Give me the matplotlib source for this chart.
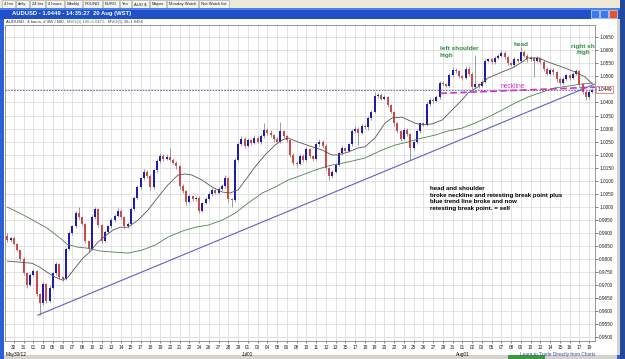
import matplotlib
matplotlib.use("Agg")
import matplotlib.pyplot as plt
from matplotlib.patches import Rectangle
import numpy as np

plt.rcParams['font.family'] = ['Liberation Sans', 'DejaVu Sans']

# AUD/USD 4h candles (two original bars per candle)
first_open = 0.9890
closes = [
    0.9872, 0.9880, 0.9858, 0.9835, 0.9800, 0.9745, 0.9700, 0.9740, 0.9755, 0.9665,
    0.9630, 0.9705, 0.9640, 0.9690, 0.9745, 0.9780, 0.9730, 0.9725, 0.9840, 0.9900,
    0.9925, 0.9975, 0.9960, 0.9935, 0.9870, 0.9840, 0.9960, 0.9990, 0.9930, 0.9870,
    0.9905, 0.9925, 0.9950, 0.9965, 0.9985, 0.9960, 0.9925, 0.9935, 0.9990, 1.0035,
    1.0075, 1.0110, 1.0135, 1.0120, 1.0075, 1.0140, 1.0175, 1.0195, 1.0185, 1.0190,
    1.0180, 1.0170, 1.0155, 1.0080, 1.0060, 1.0020, 1.0040, 1.0030, 1.0035, 0.9985,
    1.0015, 1.0030, 1.0050, 1.0065, 1.0055, 1.0070, 1.0080, 1.0110, 1.0030, 1.0025,
    1.0180, 1.0240, 1.0260, 1.0235, 1.0255, 1.0245, 1.0265, 1.0250, 1.0270, 1.0295,
    1.0285, 1.0275, 1.0260, 1.0250, 1.0290, 1.0270, 1.0255, 1.0200, 1.0170, 1.0165,
    1.0195, 1.0180, 1.0220, 1.0195, 1.0185, 1.0240, 1.0250, 1.0235, 1.0150, 1.0120,
    1.0135, 1.0160, 1.0205, 1.0225, 1.0215, 1.0240, 1.0290, 1.0300, 1.0285, 1.0310,
    1.0305, 1.0340, 1.0365, 1.0425, 1.0430, 1.0415, 1.0420, 1.0390, 1.0365, 1.0320,
    1.0290, 1.0260, 1.0295, 1.0280, 1.0225, 1.0250, 1.0290, 1.0320, 1.0315, 1.0395,
    1.0410, 1.0405, 1.0420, 1.0475, 1.0470, 1.0465, 1.0505, 1.0525, 1.0520, 1.0500,
    1.0495, 1.0530, 1.0510, 1.0460, 1.0470, 1.0465, 1.0480, 1.0560, 1.0565, 1.0555,
    1.0570, 1.0580, 1.0590, 1.0575, 1.0550, 1.0545, 1.0565, 1.0560, 1.0595, 1.0580,
    1.0565, 1.0570, 1.0560, 1.0570, 1.0555, 1.0530, 1.0510, 1.0525, 1.0515, 1.0490,
    1.0475, 1.0490, 1.0505, 1.0495, 1.0510, 1.0520, 1.0470, 1.0440, 1.0420, 1.0440,
    1.0449,
]
# wicks in pips beyond the candle body
upper_wick = [
    8, 5, 6, 4, 5, 6, 4, 8, 6, 5,
    6, 8, 5, 10, 6, 8, 5, 7, 6, 8,
    6, 10, 25, 6, 5, 4, 8, 10, 6, 5,
    6, 5, 8, 6, 10, 5, 4, 6, 8, 6,
    8, 6, 10, 6, 5, 6, 8, 10, 6, 12,
    36, 8, 6, 5, 6, 5, 8, 6, 5, 6,
    5, 6, 8, 6, 5, 8, 6, 12, 6, 5,
    6, 8, 10, 6, 8, 6, 10, 6, 8, 26,
    6, 8, 5, 6, 35, 6, 5, 4, 6, 5,
    8, 6, 8, 6, 5, 8, 10, 6, 5, 4,
    6, 8, 6, 8, 5, 6, 8, 10, 6, 8,
    6, 8, 6, 15, 8, 6, 8, 5, 6, 4,
    6, 5, 8, 6, 5, 6, 8, 6, 5, 8,
    8, 6, 10, 8, 6, 5, 8, 11, 6, 5,
    6, 10, 8, 5, 112, 6, 8, 8, 6, 5,
    8, 6, 11, 6, 5, 6, 8, 6, 18, 6,
    5, 8, 6, 8, 5, 6, 5, 8, 6, 5,
    6, 8, 6, 5, 8, 8, 6, 5, 6, 8,
    5,
]
lower_wick = [
    6, 8, 5, 6, 8, 6, 10, 5, 6, 8,
    45, 6, 10, 6, 5, 6, 8, 10, 5, 6,
    8, 6, 5, 6, 8, 13, 6, 5, 8, 10,
    6, 5, 6, 8, 5, 6, 8, 6, 5, 6,
    5, 6, 8, 10, 12, 6, 5, 6, 8, 6,
    5, 6, 8, 10, 8, 13, 6, 8, 6, 9,
    6, 5, 6, 8, 6, 5, 6, 8, 10, 25,
    6, 5, 6, 8, 6, 8, 5, 6, 8, 6,
    8, 6, 10, 6, 5, 6, 8, 10, 8, 12,
    6, 8, 5, 6, 8, 5, 6, 8, 10, 17,
    8, 6, 5, 8, 6, 5, 6, 8, 48, 6,
    8, 10, 6, 5, 8, 6, 5, 8, 6, 10,
    8, 6, 5, 10, 45, 6, 8, 6, 5, 6,
    8, 6, 5, 6, 8, 6, 5, 6, 8, 6,
    9, 6, 8, 10, 6, 8, 6, 5, 6, 8,
    6, 5, 6, 8, 6, 5, 8, 6, 5, 6,
    8, 6, 62, 5, 6, 8, 6, 5, 8, 10,
    8, 6, 5, 8, 6, 5, 10, 8, 10, 6,
    5,
]

# moving averages, sampled along the drawn curves (candle index, price)
ma30_idx = [0, 3.9, 7.6, 10, 12.2, 14.7, 17.1, 18.7, 20.8, 23.3, 25.4, 27.6, 29.4, 32.5,
            34.7, 37.1, 40.2, 43.3, 46.4, 49.4, 52.5, 54.7, 56.8, 59.9, 63, 66.1, 68.5,
            71, 73.1, 76.2, 79.3, 82.4, 84.5, 86.4, 89.4, 93.8, 96.8, 99.9, 101.8, 104.8,
            107.9, 110, 113.1, 116.2, 118.4, 121.4, 123.3, 125.4, 127.6, 130.7, 133.8,
            136.8, 139.9, 141.8, 144.8, 147.9, 152.2, 155.3, 158.4, 160.2, 163.3, 166.4,
            170.7, 174.7, 177.8, 180]
ma30_val = [0.9792, 0.9788, 0.9784, 0.9769, 0.9750, 0.9731, 0.9719, 0.9731, 0.9765, 0.9804,
            0.9827, 0.9861, 0.9881, 0.9911, 0.9922, 0.9922, 0.9949, 0.9988, 1.0038, 1.0084,
            1.0122, 1.0126, 1.0122, 1.0103, 1.0076, 1.0057, 1.0053, 1.0065, 1.0100, 1.0153,
            1.0199, 1.0237, 1.0256, 1.0264, 1.0249, 1.0230, 1.0218, 1.0199, 1.0199, 1.0210,
            1.0226, 1.0230, 1.0264, 1.0321, 1.0341, 1.0344, 1.0333, 1.0321, 1.0314, 1.0318,
            1.0333, 1.0371, 1.0410, 1.0437, 1.0460, 1.0494, 1.0517, 1.0532, 1.0555, 1.0571,
            1.0571, 1.0555, 1.0536, 1.0517, 1.0498, 1.0470]
ma120_idx = [0, 3.9, 7.9, 12.2, 16.2, 18.4, 21.5, 24.5, 28.5, 32.5, 37.1, 41.4, 45.4, 49.4,
             53.8, 57.8, 61.8, 66.1, 70.1, 74.1, 78.4, 82.4, 86.4, 90.7, 94.7, 98.7, 104.8,
             110, 115.3, 119.3, 123.3, 127.6, 131.6, 135.6, 139.9, 143.9, 147.9, 152.2,
             156.2, 160.2, 164.5, 168.5, 172.5, 176.8, 180]
ma120_val = [0.9999, 0.9976, 0.9949, 0.9919, 0.9881, 0.9857, 0.9846, 0.9842, 0.9831, 0.9827,
             0.9823, 0.9834, 0.9853, 0.9884, 0.9907, 0.9922, 0.9930, 0.9949, 0.9976, 1.0015,
             1.0053, 1.0076, 1.0103, 1.0122, 1.0141, 1.0157, 1.0172, 1.0187, 1.0218, 1.0237,
             1.0249, 1.0264, 1.0275, 1.0291, 1.0302, 1.0321, 1.0344, 1.0371, 1.0398, 1.0421,
             1.0440, 1.0456, 1.0463, 1.0471, 1.0475]

trend_idx = [9.4, 180.8]
trend_val = [0.9585, 1.0471]
neck_idx = [133.2, 181.1]
neck_val = [1.0435, 1.0459]
last_price = 1.0449

day_labels = ["30", "31", "01", "03", "05", "06", "07", "08", "10", "12",
              "13", "14", "15", "17", "18", "19", "20", "21", "22", "24",
              "26", "27", "28", "29", "01", "03", "04", "05", "06", "08",
              "10", "11", "12", "13", "15", "17", "18", "19", "20", "22",
              "24", "25", "26", "27", "29", "31", "01", "02", "03", "05",
              "07", "08", "09", "10", "12", "14", "15", "16", "17", "19"]
month_labels = {24: "Jul01", 46: "Aug01"}

W, H = 625, 359
fig = plt.figure(figsize=(W / 100, H / 100), dpi=100)
fig.patch.set_facecolor('white')
renderer = fig.canvas.get_renderer()


def px_rect(x0, y0, x1, y1, color, ec='none', lw=0.5):
    fig.add_artist(Rectangle((x0 / W, 1 - y1 / H), (x1 - x0) / W, (y1 - y0) / H,
                             transform=fig.transFigure, facecolor=color,
                             edgecolor=ec, lw=lw, zorder=-10))


def px_text(x, y, s, **kw):
    return fig.text(x / W, 1 - y / H, s, **kw)


# window chrome
px_rect(0, 0, W, 8, '#ece9d8')
tabs = ["4 hrs", "daily", "24 hrs", "4 hours", "Weekly", "POUND", "EURO", "Yen",
        "AUD $", "Majors", "Monday Watch", "Not Watch list"]
tx = 2
for t in tabs:
    lab = px_text(tx + 2, 4.2, t, fontsize=3.0, va='center', color='#202020')
    w = lab.get_window_extent(renderer).width + 4
    px_rect(tx, 0.5, tx + w, 7.5, '#f4f3ee', ec='#a0a0a0', lw=0.4)
    tx += w + 1
px_rect(0, 8, W, H, '#2d5fd6')
# title bar with a light top edge, like the XP theme
px_rect(0, 8, W, 19, '#1f50c8')
px_rect(0, 8, W, 10, '#4a80e8')
px_text(12, 13.8, "AUDUSD - 1.0449 - 14:35:27  20 Aug (WST)", fontsize=4.2,
        color='white', va='center', fontweight='bold')
px_rect(591, 9.5, 599, 17.5, '#3c78f0', ec='white', lw=0.4)
px_rect(600, 9.5, 608, 17.5, '#3c78f0', ec='white', lw=0.4)
px_rect(609, 9.5, 617, 17.5, '#e2542e', ec='white', lw=0.4)
px_rect(4, 19, 617, 355, 'white')
px_rect(617, 19, 620, 355, '#d6d3ce')
px_rect(620, 0, W, H, '#24489a')
px_rect(4, 355, 617, H, '#d6d3ce')
px_rect(508, 355, 545, H, '#3a9a3a')

# header line, pieces placed one after another
hx = 6
for part, col in [("AUDUSD , 4 hours, # 355 / 500, ", '#202020'),
                  ("MVG(1) 120=1.0471, ", '#2e7d32'),
                  ("MVG(1) 30=1.0456", '#404040')]:
    t = px_text(hx, 21.5, part, fontsize=3.0, va='center', color=col)
    hx += t.get_window_extent(renderer).width + 1.5

# main chart axes (pixel box 5..595 x 25..341)
ax = fig.add_axes([5 / W, 1 - 341 / H, 590 / W, 316 / H])
ax.set_facecolor('white')

n = len(closes)
idx = np.arange(n)
opens = np.array([first_open] + closes[:-1])
cl = np.array(closes)
top = np.maximum(opens, cl)
bot = np.minimum(opens, cl)
highs = top + np.array(upper_wick) * 0.0001
lows = bot - np.array(lower_wick) * 0.0001
up = cl >= opens

ax.vlines(idx, lows, highs, color='#8c8c8c', lw=0.6, zorder=3)
heights = np.maximum(top - bot, 0.0003)
ax.bar(idx[up], heights[up], bottom=bot[up], width=0.6, color='#1c1cb0', lw=0, zorder=4)
ax.bar(idx[~up], heights[~up], bottom=bot[~up], width=0.6, color='#d04848', lw=0, zorder=4)

ax.plot(ma30_idx, ma30_val, color='#555555', lw=0.6, zorder=5)
ax.plot(ma120_idx, ma120_val, color='#4f7f4f', lw=0.6, zorder=5)
ax.plot(trend_idx, trend_val, color='#6060c8', lw=0.8, zorder=5)
ax.axhline(last_price, color='#5a5aa0', lw=0.6, dashes=(2, 1.5), zorder=5)
ax.plot(neck_idx, neck_val, color='#cc33cc', lw=1.2, dashes=(4, 2), zorder=6)

ax.set_xlim(-0.7, 180.8)
ax.set_ylim(0.9486, 1.0697)

yt = np.arange(0.9500, 1.0651, 0.005)
ax.set_yticks(yt)
# the 1.0450 label sits under the last-price tag
ax.set_yticklabels(["" if abs(v - 1.045) < 1e-6 else "%.4f" % v for v in yt])
ax.yaxis.tick_right()
ax.tick_params(axis='y', labelsize=3.4, length=2, pad=1, width=0.4, colors='#202020')
xt = [2 + 3 * i for i in range(len(day_labels))]
ax.set_xticks(xt)
ax.set_xticklabels(day_labels)
ax.tick_params(axis='x', labelsize=3.4, length=1.5, pad=1.5, width=0.4, colors='#202020')
ax.grid(True, color='#d8d8d8', lw=0.5, zorder=0)
ax.set_axisbelow(True)
for s in ax.spines.values():
    s.set_color('#707070')
    s.set_linewidth(0.5)

xtr = ax.get_xaxis_transform()
ax.text(-0.5, -0.035, "May30/12", transform=xtr, fontsize=3.4, ha='left', va='top')
for k, lab in month_labels.items():
    ax.text(xt[k], -0.035, lab, transform=xtr, fontsize=3.4, ha='center', va='top')
ax.text(180.8, -0.035, "Learn to Trade Directly from Charts", transform=xtr,
        fontsize=3.4, ha='right', va='top', color='#2f4f9f')

ax.annotate("1.0449", xy=(1.0, last_price), xycoords=('axes fraction', 'data'),
            xytext=(1.5, 0), textcoords='offset points', fontsize=3.4, va='center',
            ha='left', annotation_clip=False, zorder=10,
            bbox=dict(boxstyle='square,pad=0.25', fc='white', ec='#e06060', lw=0.5))

# annotations
green = '#2e8b3e'
px_text(440, 52, "left shoulder\nhigh", fontsize=4.6, color=green, fontweight='bold',
        va='center', ha='left', linespacing=1.3)
px_text(521, 44, "head", fontsize=4.6, color=green, fontweight='bold', va='center', ha='center')
px_text(583, 49.5, "right sh\nhigh", fontsize=4.6, color=green, fontweight='bold',
        va='center', ha='center', linespacing=1.3)
px_text(513, 86, "neckline", fontsize=4.8, color='#cc33cc', va='center', ha='center')
px_text(430, 198.5, "head and shoulder\nbroke neckline and retesting break point plus\n"
        "blue trend line broke and now\nretesting break point. = sell",
        fontsize=4.4, color='black', fontweight='bold', va='center', ha='left',
        linespacing=1.35)

fig.savefig("out.png", dpi=100)
